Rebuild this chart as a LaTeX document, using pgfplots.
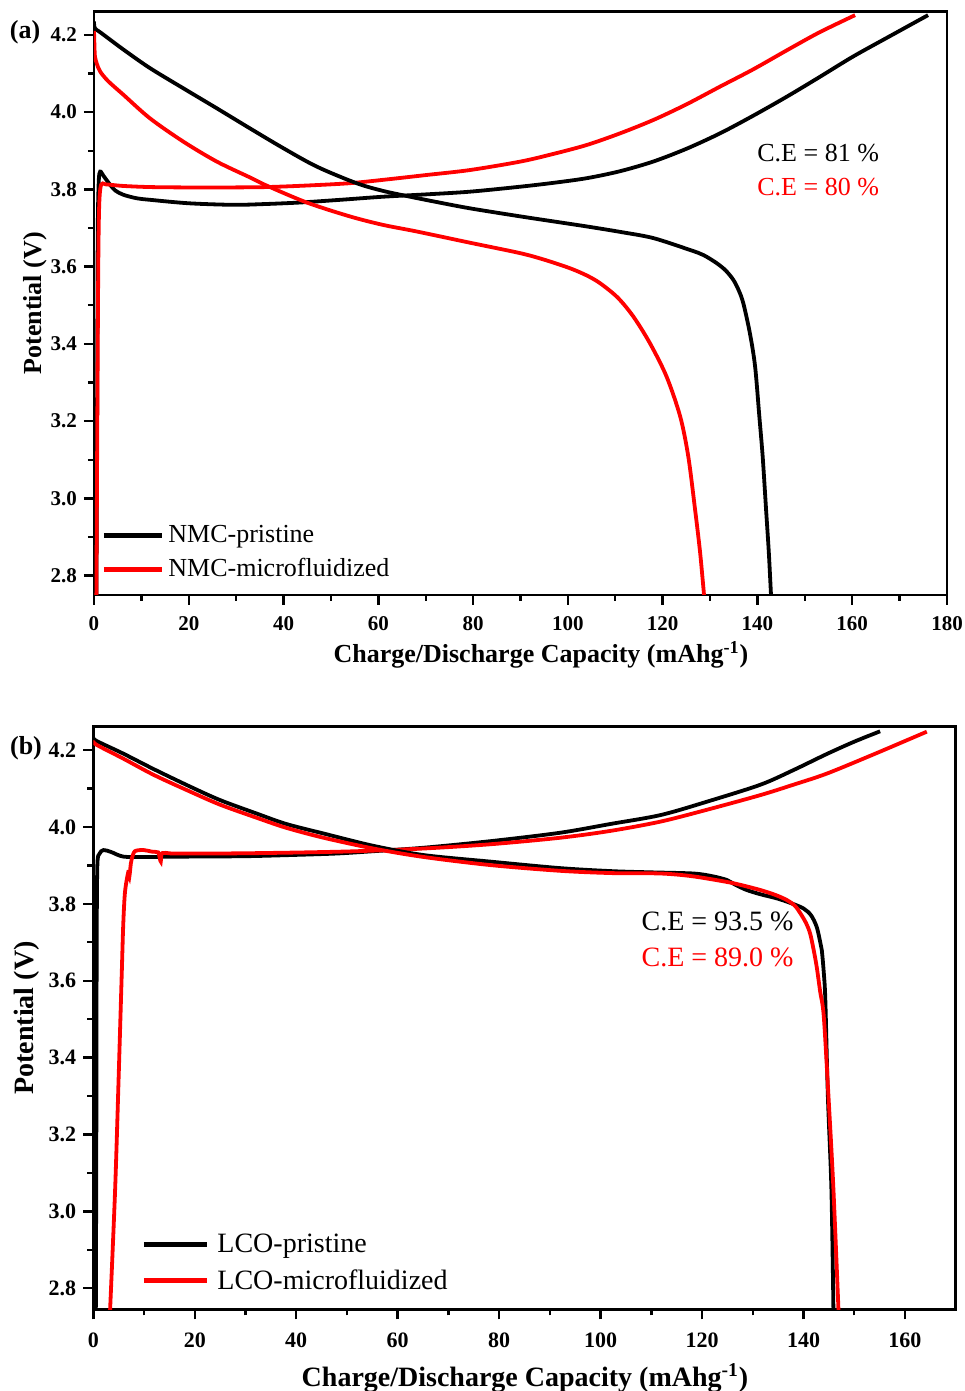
\documentclass[border=0pt]{standalone}
\usepackage{fontspec}
\setmainfont{Liberation Serif}
\usepackage{pgfplots}
\pgfplotsset{compat=1.18}
\pgfplotsset{
  myaxis/.style={
    scale only axis,
    axis line style={line width=1.35pt},
    tick align=outside, xtick pos=left, ytick pos=left,
    major tick length=5pt, minor tick length=3pt,
    tick style={line width=1.2pt, black},
    minor tick num=1,
    /pgf/number format/assume math mode=true,
    yticklabel style={/pgf/number format/fixed, /pgf/number format/fixed zerofill, /pgf/number format/precision=1},
    legend cell align=left,
  },
  blk/.style={black, line width=1.9pt, no marks, smooth, tension=0.5},
  rd/.style={red, line width=1.9pt, no marks, smooth, tension=0.5},
}
\begin{document}
\begin{tikzpicture}
\useasboundingbox (0,0) rectangle (482pt,695.5pt);
% ---------------- panel (a)
\begin{axis}[myaxis,
  at={(47pt,398pt)}, anchor=south west,
  width=426.5pt, height=291.65pt,
  xmin=0, xmax=180, ymin=2.75, ymax=4.26,
  xtick={0,20,...,180}, ytick={2.8,3.0,...,4.2},
  ticklabel style={font=\fontsize{10.5}{12}\selectfont\bfseries},
  xticklabel style={yshift=-2pt},
  xlabel={\bfseries Charge/Discharge Capacity (mAhg\textsuperscript{-1})},
  ylabel={\bfseries Potential (V)},
  label style={font=\fontsize{13}{15.6}\selectfont},
  xlabel style={at={(axis description cs:0.524,-0.1029)}, anchor=center},
  ylabel style={at={(axis description cs:-0.0692,0.5)}, anchor=center},
  legend image code/.code={\draw[#1, line width=2.5pt] (0pt,0pt) -- (29pt,0pt);},
  legend style={draw=none, fill=none, at={(rel axis cs:0.0129,0.02)}, anchor=south west,
    xshift=-5pt, yshift=-2.5pt,
    font=\fontsize{13}{15.6}\selectfont, row sep=2.5pt},
]
\addplot[blk] coordinates {(0.5,2.74) (0.6,3.0) (0.7,3.4) (0.8,3.7) (1.0,3.82) (1.3,3.846) (2.0,3.835) (3.4,3.812) (4.5,3.797) (6.2,3.786) (9,3.777) (11.8,3.773) (20,3.764) (29.4,3.760) (36,3.762) (43.5,3.766) (52,3.773) (61,3.781) (70,3.787) (79.3,3.794) (90,3.807) (97,3.817) (104,3.829) (111,3.847) (118,3.872) (125,3.905) (132.1,3.945) (139,3.99) (146.2,4.040) (153,4.090) (160.2,4.144) (168,4.197) (176,4.251)};
\addlegendentry{NMC-pristine}
\addplot[rd] coordinates {(0.5,2.74) (0.7,3.2) (0.9,3.6) (1.1,3.76) (1.5,3.812) (2.5,3.813) (6,3.809) (11.8,3.806) (20,3.805) (28,3.805) (36.4,3.806) (45,3.810) (54,3.816) (62,3.826) (70,3.837) (79.3,3.850) (90,3.872) (97,3.892) (104,3.915) (111,3.945) (118.1,3.980) (125,4.020) (132.1,4.066) (139,4.110) (146.2,4.160) (153,4.206) (160.6,4.251)};
\addlegendentry{NMC-microfluidized}
\addplot[blk, forget plot] coordinates {(0,4.235) (0.2,4.217) (1.5,4.205) (6.2,4.162) (11.8,4.114) (18.8,4.062) (25.9,4.010) (32.9,3.958) (39.9,3.907) (47,3.859) (55.4,3.816) (61,3.796) (66.7,3.781) (72,3.768) (79.3,3.751) (90,3.730) (97,3.717) (104,3.704) (111,3.690) (118,3.674) (125.8,3.643) (128.6,3.630) (131.4,3.609) (133.3,3.590) (134.9,3.566) (136.0,3.540) (137.0,3.506) (138.4,3.428) (139.5,3.342) (140.4,3.212) (141.1,3.109) (141.8,2.975) (142.4,2.86) (142.9,2.74)};
\addplot[rd, forget plot] coordinates {(0,4.21) (0.1,4.17) (0.2,4.144) (0.6,4.125) (1.3,4.105) (3,4.08) (6.2,4.045) (11.8,3.984) (18.8,3.924) (25.9,3.872) (32.9,3.831) (36.4,3.810) (44.9,3.766) (54,3.730) (61,3.708) (68.1,3.691) (79.3,3.662) (89.9,3.635) (95,3.618) (100.4,3.596) (104,3.577) (106.8,3.557) (110.5,3.520) (113.8,3.471) (117.3,3.402) (120.8,3.316) (123.7,3.212) (125.4,3.109) (126.8,2.975) (127.9,2.86) (128.8,2.74)};
\node[anchor=west, inner sep=0pt, font=\fontsize{13}{15.6}\selectfont] at (axis cs:139.9,3.894) {C.E = 81 \%};
\node[anchor=west, inner sep=0pt, font=\fontsize{13}{15.6}\selectfont, text=red] at (axis cs:139.9,3.806) {C.E = 80 \%};
\end{axis}
\node[font=\fontsize{13}{15.6}\selectfont\bfseries] at (12.5pt,679.5pt) {(a)};
% ---------------- panel (b)
\begin{axis}[myaxis,
  at={(46.65pt,40.85pt)}, anchor=south west,
  width=431.2pt, height=291.3pt,
  xmin=0, xmax=170, ymin=2.745, ymax=4.261,
  xtick={0,20,...,160}, ytick={2.8,3.0,...,4.2},
  ticklabel style={font=\fontsize{11}{13}\selectfont\bfseries},
  xticklabel style={yshift=-3.5pt},
  xlabel={\bfseries Charge/Discharge Capacity (mAhg\textsuperscript{-1})},
  ylabel={\bfseries Potential (V)},
  label style={font=\fontsize{14}{16.8}\selectfont},
  xlabel style={at={(axis description cs:0.5006,-0.118)}, anchor=center},
  ylabel style={at={(axis description cs:-0.0769,0.5)}, anchor=center},
  legend image code/.code={\draw[#1, line width=2.5pt] (0pt,0pt) -- (31.5pt,0pt);},
  legend style={draw=none, fill=none, at={(rel axis cs:0.06,0.02)}, anchor=south west,
    xshift=-5pt, yshift=-1.5pt,
    font=\fontsize{14}{16.8}\selectfont, row sep=3pt,
    /tikz/every odd column/.append style={column sep=2pt}},
]
\addplot[blk] coordinates {(0.5,2.74) (0.6,3.2) (0.67,3.7) (0.8,3.90) (1.2,3.93) (2.0,3.940) (3.5,3.935) (5.9,3.923) (10,3.922) (19.1,3.923) (30,3.924) (38.8,3.927) (48,3.931) (55.2,3.937) (65.1,3.946) (78.2,3.963) (92,3.985) (102,4.008) (111.8,4.031) (121,4.066) (131.5,4.110) (138,4.148) (144.6,4.190) (150,4.222) (155.1,4.249)};
\addlegendentry{LCO-pristine}
\addplot[rd] coordinates {(3.3,2.74) (4.3,3.056) (5.0,3.35) (5.6,3.615) (5.9,3.745) (6.25,3.831) (6.9,3.883) (7.1,3.87) (7.4,3.905) (7.6,3.918) (8.2,3.937) (9.9,3.940) (11.5,3.936) (12.8,3.934) (13.0,3.925) (13.3,3.91) (13.6,3.932) (15.8,3.931) (24,3.931) (32.2,3.932) (42,3.934) (51.9,3.937) (65.1,3.944) (78.2,3.955) (92,3.972) (102,3.99) (111.8,4.014) (121,4.045) (131.5,4.083) (138,4.110) (144.6,4.139) (154,4.190) (164.3,4.248)};
\addlegendentry{LCO-microfluidized}
\addplot[blk, forget plot] coordinates {(0,4.235) (0.5,4.225) (5.9,4.191) (12,4.15) (19.1,4.105) (25,4.07) (32.2,4.035) (38,4.008) (45.4,3.983) (55.2,3.951) (65.1,3.927) (78.2,3.910) (92,3.893) (102.4,3.885) (110,3.882) (118.3,3.879) (122,3.872) (124.9,3.862) (126.5,3.850) (128.8,3.836) (131.5,3.825) (134.8,3.814) (137.5,3.802) (140,3.788) (141.5,3.77) (142.6,3.740) (143.3,3.70) (143.6,3.680) (144.0,3.62) (144.3,3.550) (144.8,3.30) (145.5,3.056) (145.9,2.74)};
\addplot[rd, forget plot] coordinates {(0,4.226) (0.5,4.215) (5.9,4.178) (12,4.135) (19.1,4.092) (25,4.058) (32.2,4.024) (38,3.998) (45.4,3.972) (55.2,3.944) (65.1,3.922) (78.2,3.901) (92,3.886) (102.4,3.880) (111.8,3.879) (118,3.872) (124.9,3.857) (128,3.848) (131.5,3.836) (134.5,3.823) (136.7,3.810) (138.3,3.795) (139.4,3.775) (140.5,3.75) (141.3,3.723) (142.0,3.68) (142.6,3.636) (143.3,3.57) (144,3.506) (145,3.28) (145.9,3.056) (146.9,2.74)};
\node[anchor=west, inner sep=0pt, font=\fontsize{14}{16.8}\selectfont] at (axis cs:108.0,3.755) {C.E = 93.5 \%};
\node[anchor=west, inner sep=0pt, font=\fontsize{14}{16.8}\selectfont, text=red] at (axis cs:108.0,3.662) {C.E = 89.0 \%};
\end{axis}
\node[font=\fontsize{13}{15.6}\selectfont\bfseries] at (13pt,321.5pt) {(b)};
\end{tikzpicture}
\end{document}
